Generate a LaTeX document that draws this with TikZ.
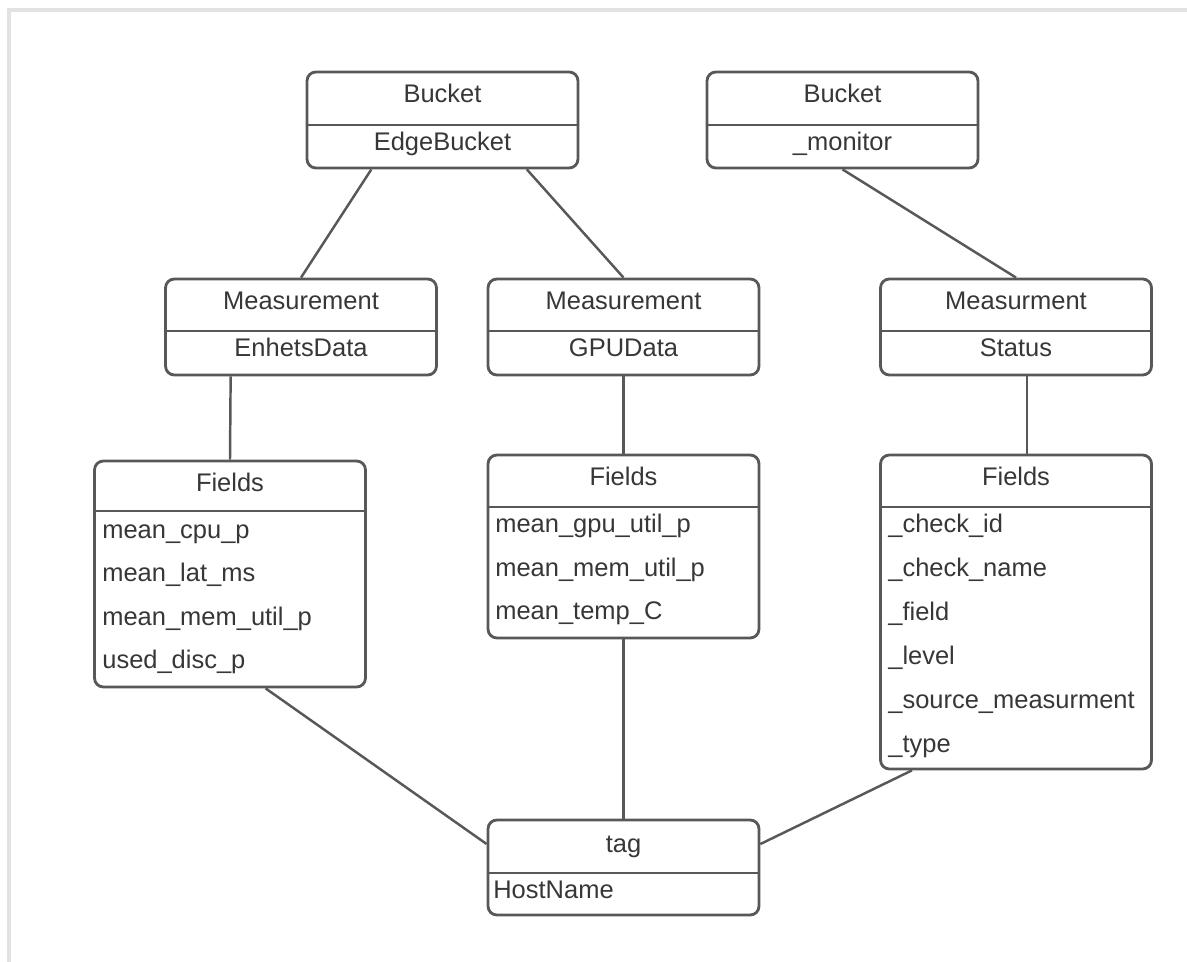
\documentclass[tikz,border=0pt]{standalone}
\usepackage{fontspec}
\setmainfont{Liberation Sans}
\definecolor{linegray}{RGB}{88, 88, 88}
\definecolor{textgray}{RGB}{55, 55, 55}
\definecolor{shadowgray}{RGB}{226, 226, 226}
\usetikzlibrary{calc}

\begin{document}
\begin{tikzpicture}[x=0.02cm, y=-0.02cm,
  classbox/.style={draw=linegray, line width=1.6pt, rounded corners=5pt, minimum width=5.42cm, inner sep=0pt},
  divider/.style={draw=linegray, line width=1.6pt},
  link/.style={draw=linegray, line width=1.4pt},
  hdr/.style={anchor=base, text=textgray, font=\fontsize{14.5}{17}\selectfont, inner sep=0pt},
  row/.style={hdr, anchor=base west}]
  \useasboundingbox (0,0) rectangle (1187,962);

  % Page shadow
  \draw[shadowgray, line width=2pt] (9,962) -- (9,10) -- (1187,10);

  % Buckets
  \node[classbox, minimum height=1.92cm] (edge) at (442.5,120) {};
  \draw[divider] (edge.west |- 0,125) -- (edge.east |- 0,125);
  \node[hdr] (edgeT) at (442.5,103) {Bucket};
  \node[hdr] (edgeB) at (442.5,151) {EdgeBucket};

  \node[classbox, minimum height=1.92cm] (monitor) at (842.5,120) {};
  \draw[divider] (monitor.west |- 0,125) -- (monitor.east |- 0,125);
  \node[hdr] (monitorT) at (842.5,103) {Bucket};
  \node[hdr] (monitorB) at (842.5,151) {\_monitor};

  % Measurements
  \node[classbox, minimum height=1.92cm] (enhets) at (301,327) {};
  \draw[divider] (enhets.west |- 0,331) -- (enhets.east |- 0,331);
  \node[hdr] (enhetsT) at (301,310) {Measurement};
  \node[hdr] (enhetsB) at (301,357) {EnhetsData};

  \node[classbox, minimum height=1.92cm] (gpu) at (623.5,327) {};
  \draw[divider] (gpu.west |- 0,331) -- (gpu.east |- 0,331);
  \node[hdr] (gpuT) at (623.5,310) {Measurement};
  \node[hdr] (gpuB) at (623.5,357) {GPUData};

  \node[classbox, minimum height=1.92cm] (status) at (1016,327) {};
  \draw[divider] (status.west |- 0,331) -- (status.east |- 0,331);
  \node[hdr] (statusT) at (1016,310) {Measurment};
  \node[hdr] (statusB) at (1016,357) {Status};

  % Fields
  \node[classbox, minimum height=4.52cm] (fieldsA) at (230,574) {};
  \draw[divider] (fieldsA.west |- 0,511) -- (fieldsA.east |- 0,511);
  \node[hdr] (fieldsAT) at (230,492) {Fields};
  \node[row] (a1) at (102,539) {mean\_cpu\_p};
  \node[row] (a2) at (102,582) {mean\_lat\_ms};
  \node[row] (a3) at (102,625) {mean\_mem\_util\_p};
  \node[row] (a4) at (102,668) {used\_disc\_p};

  \node[classbox, minimum height=3.66cm] (fieldsB) at (623.5,546.5) {};
  \draw[divider] (fieldsB.west |- 0,507) -- (fieldsB.east |- 0,507);
  \node[hdr] (fieldsBT) at (623.5,486) {Fields};
  \node[row] (b1) at (495,533) {mean\_gpu\_util\_p};
  \node[row] (b2) at (495,577) {mean\_mem\_util\_p};
  \node[row] (b3) at (495,620) {mean\_temp\_C};

  \node[classbox, minimum height=6.28cm] (fieldsC) at (1016,612) {};
  \draw[divider] (fieldsC.west |- 0,507) -- (fieldsC.east |- 0,507);
  \node[hdr] (fieldsCT) at (1016,486) {Fields};
  \node[row] (c1) at (888,533) {\_check\_id};
  \node[row] (c2) at (888,577) {\_check\_name};
  \node[row] (c3) at (888,621) {\_field};
  \node[row] (c4) at (888,664) {\_level};
  \node[row] (c5) at (888,708) {\_source\_measurment};
  \node[row] (c6) at (888,752) {\_type};

  % Tag
  \node[classbox, minimum height=1.9cm] (tag) at (623.5,867.5) {};
  \draw[divider] (tag.west |- 0,873) -- (tag.east |- 0,873);
  \node[hdr] (tagT) at (623.5,852) {tag};
  \node[row] (tagB) at (493,898) {HostName};

  % Connectors
  \draw[link] ($(edge.south west)!0.24!(edge.south east)$) -- (enhets.north);
  \draw[link] ($(edge.south west)!0.808!(edge.south east)$) -- (gpu.north);
  \draw[link] (monitor.south) -- (status.north);
  \draw[link] ($(enhets.south west)!0.243!(enhets.south east)$) -- (fieldsA.north);
  \draw[link] (gpu.south) -- (fieldsB.north);
  \draw[link] ($(status.south west)!0.54!(status.south east)$) -- ($(fieldsC.north west)!0.54!(fieldsC.north east)$);
  \draw[link] ($(fieldsA.south west)!0.63!(fieldsA.south east)$) -- ($(tag.north west)!0.26!(tag.south west)$);
  \draw[link] (fieldsB.south) -- (tag.north);
  \draw[link] ($(fieldsC.south west)!0.12!(fieldsC.south east)$) -- ($(tag.north east)!0.26!(tag.south east)$);
\end{tikzpicture}
\end{document}
